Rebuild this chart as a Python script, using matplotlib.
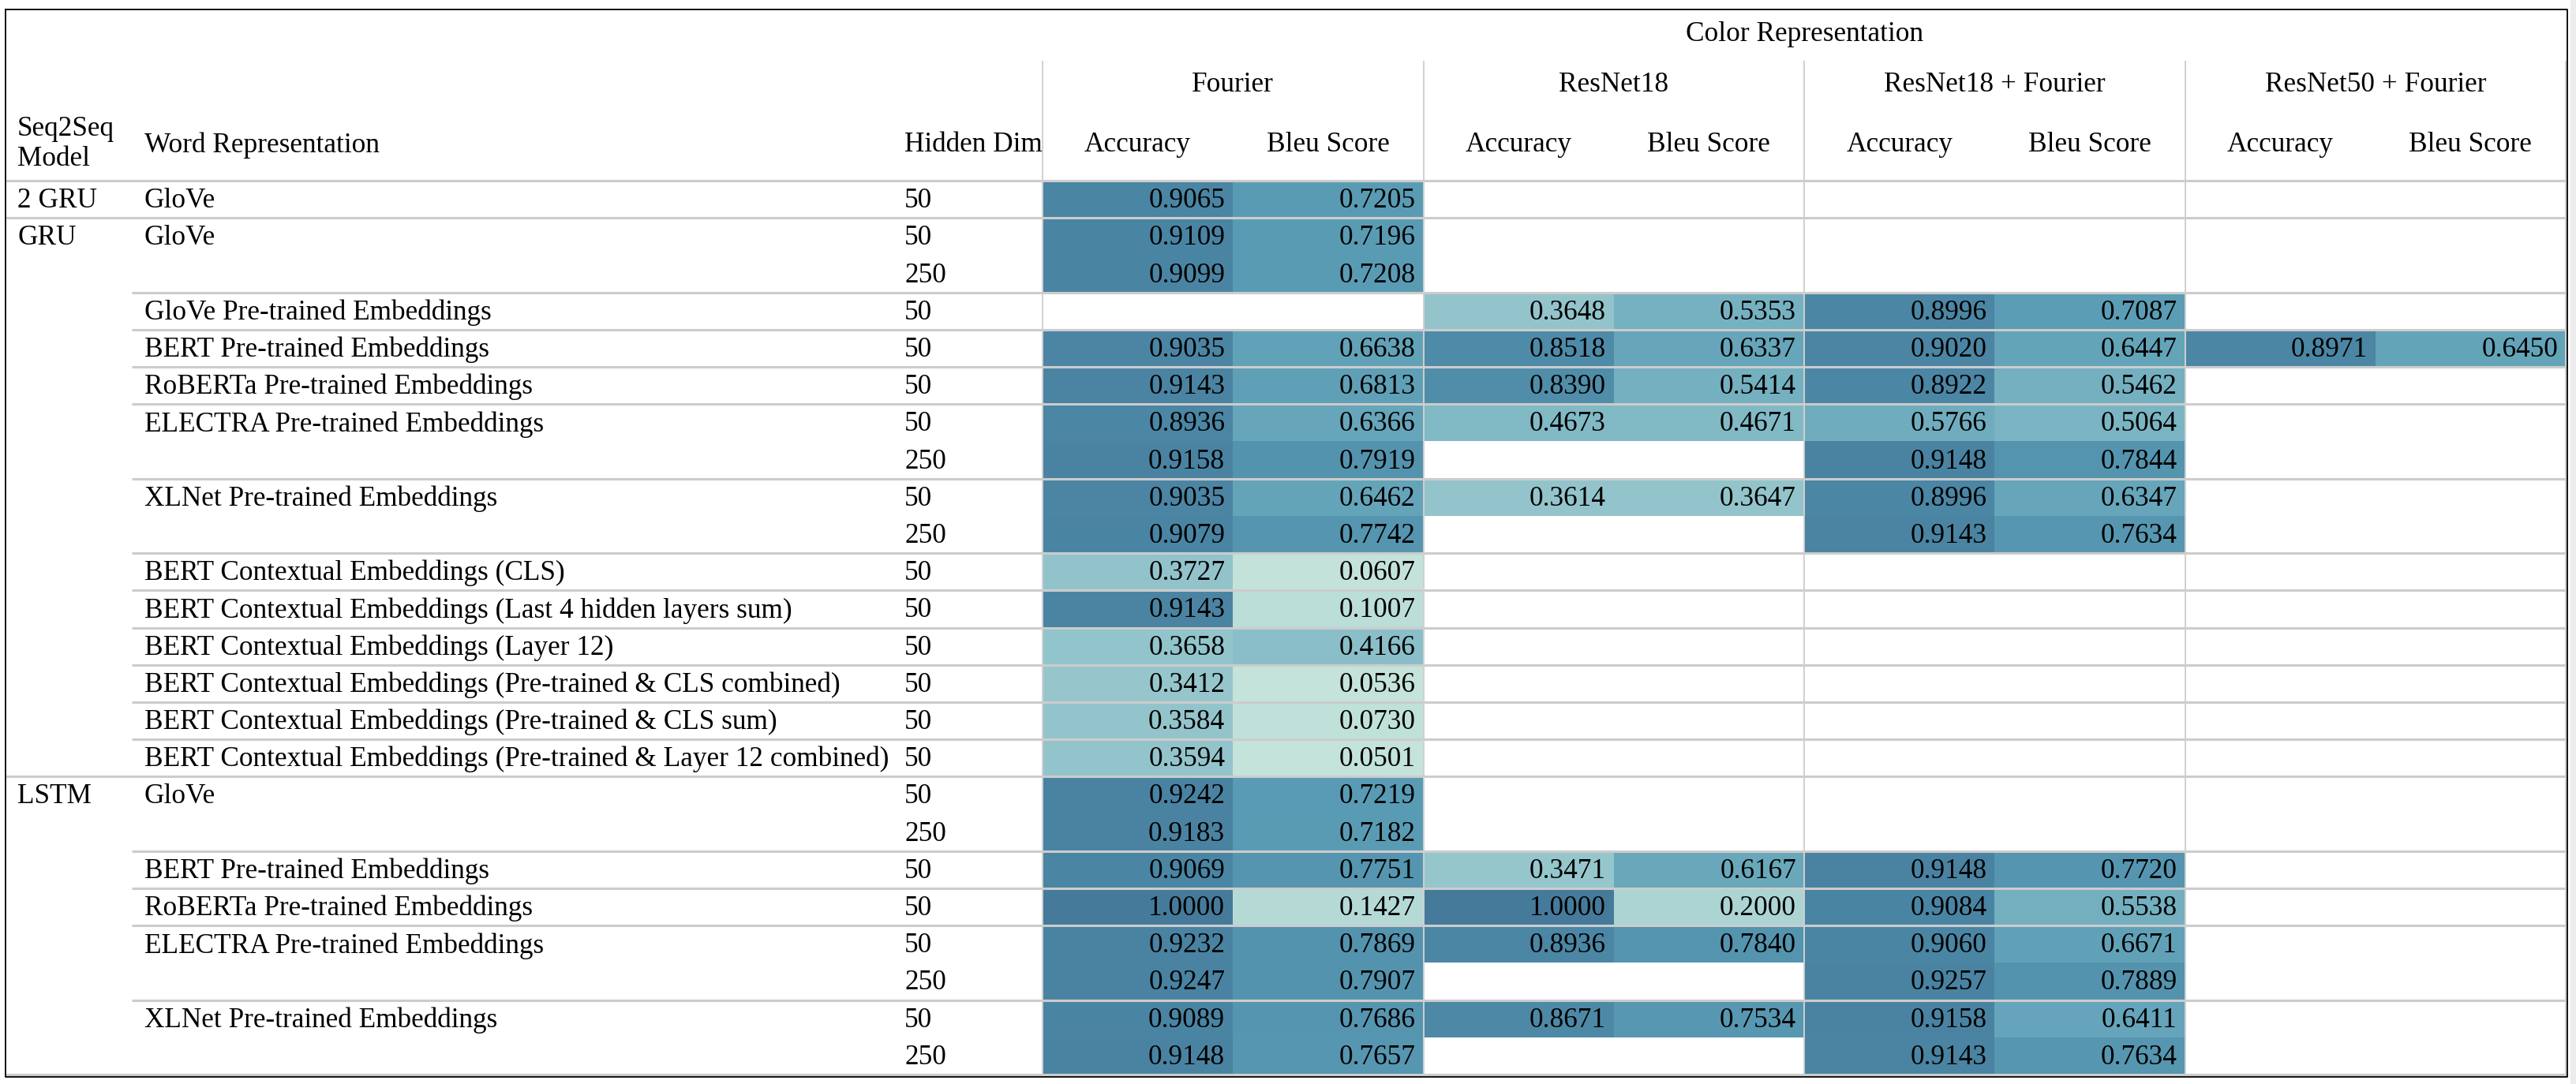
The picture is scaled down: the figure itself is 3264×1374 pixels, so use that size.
import numpy as np
import matplotlib
matplotlib.use("Agg")
import matplotlib.pyplot as plt
from matplotlib.colors import LinearSegmentedColormap, Normalize

nan = np.nan

color_groups = ["Fourier", "ResNet18", "ResNet18 + Fourier", "ResNet50 + Fourier"]
metric_names = ["Accuracy", "Bleu Score"]

model_labels = ["2 GRU", "GRU", "", "", "", "", "", "", "", "", "", "", "", "", "", "",
                "LSTM", "", "", "", "", "", "", ""]
word_labels = [
    "GloVe", "GloVe", "", "GloVe Pre-trained Embeddings", "BERT Pre-trained Embeddings",
    "RoBERTa Pre-trained Embeddings", "ELECTRA Pre-trained Embeddings", "",
    "XLNet Pre-trained Embeddings", "",
    "BERT Contextual Embeddings (CLS)",
    "BERT Contextual Embeddings (Last 4 hidden layers sum)",
    "BERT Contextual Embeddings (Layer 12)",
    "BERT Contextual Embeddings (Pre-trained & CLS combined)",
    "BERT Contextual Embeddings (Pre-trained & CLS sum)",
    "BERT Contextual Embeddings (Pre-trained & Layer 12 combined)",
    "GloVe", "", "BERT Pre-trained Embeddings", "RoBERTa Pre-trained Embeddings",
    "ELECTRA Pre-trained Embeddings", "", "XLNet Pre-trained Embeddings", "",
]
hidden_dims = [50, 50, 250, 50, 50, 50, 50, 250, 50, 250, 50, 50, 50, 50, 50, 50,
               50, 250, 50, 50, 50, 250, 50, 250]

fourier_acc = [0.9065, 0.9109, 0.9099, nan, 0.9035, 0.9143, 0.8936, 0.9158, 0.9035, 0.9079,
               0.3727, 0.9143, 0.3658, 0.3412, 0.3584, 0.3594,
               0.9242, 0.9183, 0.9069, 1.0000, 0.9232, 0.9247, 0.9089, 0.9148]
fourier_bleu = [0.7205, 0.7196, 0.7208, nan, 0.6638, 0.6813, 0.6366, 0.7919, 0.6462, 0.7742,
                0.0607, 0.1007, 0.4166, 0.0536, 0.0730, 0.0501,
                0.7219, 0.7182, 0.7751, 0.1427, 0.7869, 0.7907, 0.7686, 0.7657]
resnet18_acc = [nan, nan, nan, 0.3648, 0.8518, 0.8390, 0.4673, nan, 0.3614, nan,
                nan, nan, nan, nan, nan, nan,
                nan, nan, 0.3471, 1.0000, 0.8936, nan, 0.8671, nan]
resnet18_bleu = [nan, nan, nan, 0.5353, 0.6337, 0.5414, 0.4671, nan, 0.3647, nan,
                 nan, nan, nan, nan, nan, nan,
                 nan, nan, 0.6167, 0.2000, 0.7840, nan, 0.7534, nan]
resnet18_fourier_acc = [nan, nan, nan, 0.8996, 0.9020, 0.8922, 0.5766, 0.9148, 0.8996, 0.9143,
                        nan, nan, nan, nan, nan, nan,
                        nan, nan, 0.9148, 0.9084, 0.9060, 0.9257, 0.9158, 0.9143]
resnet18_fourier_bleu = [nan, nan, nan, 0.7087, 0.6447, 0.5462, 0.5064, 0.7844, 0.6347, 0.7634,
                         nan, nan, nan, nan, nan, nan,
                         nan, nan, 0.7720, 0.5538, 0.6671, 0.7889, 0.6411, 0.7634]
resnet50_fourier_acc = [nan, nan, nan, nan, 0.8971, nan, nan, nan, nan, nan,
                        nan, nan, nan, nan, nan, nan,
                        nan, nan, nan, nan, nan, nan, nan, nan]
resnet50_fourier_bleu = [nan, nan, nan, nan, 0.6450, nan, nan, nan, nan, nan,
                         nan, nan, nan, nan, nan, nan,
                         nan, nan, nan, nan, nan, nan, nan, nan]

# rows whose top edge gets a separator; full width ones start a new model
full_separators = [0, 1, 16]
word_separators = [3, 4, 5, 6, 8, 10, 11, 12, 13, 14, 15, 18, 19, 20, 22]

# layout in pixels (figure is 3264 x 1374 at dpi 100)
W, H = 3264, 1374
LEFT, RIGHT, TOP, BOTTOM = 7, 3253, 12, 1365
HEAD_BOTTOM = 229
BODY_BOTTOM = 1362
DATA_LEFT, DATA_RIGHT = 1321, 3251
X_MODEL, X_WORD, X_DIM = 22, 183, 1146
FONT = ["Liberation Serif", "DejaVu Serif"]
FS = 25.4

values = np.array([fourier_acc, fourier_bleu, resnet18_acc, resnet18_bleu,
                   resnet18_fourier_acc, resnet18_fourier_bleu,
                   resnet50_fourier_acc, resnet50_fourier_bleu]).T
n_rows, n_cols = values.shape
row_h = (BODY_BOTTOM - HEAD_BOTTOM) / n_rows
col_w = (DATA_RIGHT - DATA_LEFT) / n_cols
x_edges = DATA_LEFT + col_w * np.arange(n_cols + 1)
y_edges = HEAD_BOTTOM + row_h * np.arange(n_rows + 1)

cmap = LinearSegmentedColormap.from_list("table_blue", [
    (0.0, "#c4e3da"), (0.16, "#abd4d3"), (0.33, "#93c4cb"), (0.52, "#74b0c0"),
    (0.70, "#5a9cb5"), (0.89, "#4b86a4"), (1.0, "#457a9a"),
])

fig = plt.figure(figsize=(W / 100, H / 100), dpi=100)
ax = fig.add_axes([0, 0, 1, 1])
ax.set_xlim(0, W)
ax.set_ylim(H, 0)
ax.set_axis_off()

ax.pcolormesh(x_edges, y_edges, np.ma.masked_invalid(values), cmap=cmap,
              norm=Normalize(0.05, 1.0), shading="flat", zorder=1)

line_kw = dict(color="#cccccc", lw=2.2, zorder=2, solid_capstyle="butt")
ax.plot([LEFT, RIGHT], [HEAD_BOTTOM, HEAD_BOTTOM], **line_kw)
for r in full_separators[1:]:
    ax.plot([LEFT, RIGHT], [y_edges[r], y_edges[r]], **line_kw)
for r in word_separators:
    ax.plot([X_WORD - 16, RIGHT], [y_edges[r], y_edges[r]], **line_kw)
ax.plot([LEFT, RIGHT], [BODY_BOTTOM, BODY_BOTTOM], **line_kw)
for g in range(len(color_groups) + 1):
    x = x_edges[2 * g]
    ax.plot([x, x], [78, BODY_BOTTOM], color="#d0d0d0", lw=1.4, zorder=2)

ax.plot([LEFT, RIGHT, RIGHT, LEFT, LEFT], [TOP, TOP, BOTTOM, BOTTOM, TOP],
        color="black", lw=1.3, zorder=3)
ax.axvspan(RIGHT + 4, W, color="#ececec", zorder=0)

text_kw = dict(family=FONT, fontsize=FS, color="black", va="center")
ax.text((DATA_LEFT + DATA_RIGHT) / 2, 43, "Color Representation", ha="center", **text_kw)
for g, name in enumerate(color_groups):
    ax.text((x_edges[2 * g] + x_edges[2 * g + 2]) / 2, 107, name, ha="center", **text_kw)
    for m, metric in enumerate(metric_names):
        c = 2 * g + m
        ax.text((x_edges[c] + x_edges[c + 1]) / 2, 184, metric, ha="center", **text_kw)
ax.text(X_MODEL, 164, "Seq2Seq", ha="left", **text_kw)
ax.text(X_MODEL, 201, "Model", ha="left", **text_kw)
ax.text(X_WORD, 184, "Word Representation", ha="left", **text_kw)
ax.text(X_DIM, 184, "Hidden Dim", ha="left", **text_kw)

for r in range(n_rows):
    yc = (y_edges[r] + y_edges[r + 1]) / 2 + 2
    if model_labels[r]:
        ax.text(X_MODEL, yc, model_labels[r], ha="left", **text_kw)
    if word_labels[r]:
        ax.text(X_WORD, yc, word_labels[r], ha="left", **text_kw)
    ax.text(X_DIM, yc, str(hidden_dims[r]), ha="left", **text_kw)
    for c in range(n_cols):
        v = values[r, c]
        if not np.isnan(v):
            ax.text(x_edges[c + 1] - 10, yc, f"{v:.4f}", ha="right", zorder=4, **text_kw)

fig.savefig("out.png", dpi=100, facecolor="white")
